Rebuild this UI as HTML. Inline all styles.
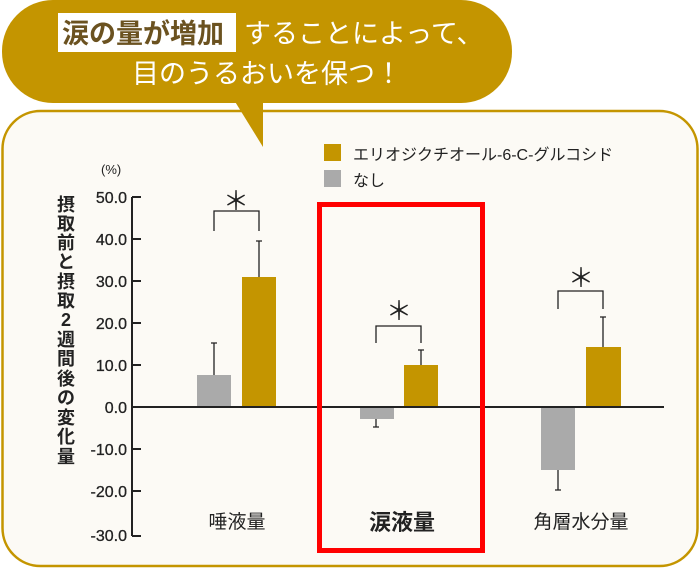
<!DOCTYPE html>
<html><head><meta charset="utf-8"><style>
body{margin:0;width:700px;height:569px;background:#fff;overflow:hidden;font-family:"Liberation Sans","Noto Sans CJK JP",sans-serif;}
</style></head><body>
<svg width="700" height="569" viewBox="0 0 700 569" xmlns="http://www.w3.org/2000/svg" style="position:absolute;left:0;top:0">
<rect x="2.5" y="111" width="695" height="455" rx="38" fill="#fcfaf5" stroke="#c49500" stroke-width="2.5"/>
<rect x="2" y="0" width="510" height="103" rx="51" fill="#c49500"/>
<polygon points="234,100 263,100 263,147" fill="#c49500"/>
<rect x="58" y="13" width="178" height="39" fill="#fff"/>
<g font-family="'Liberation Sans','Noto Sans CJK JP',sans-serif">
<text x="62" y="43" font-size="27" font-weight="bold" fill="#6b5220">涙の量が増加</text>
<text x="244" y="43" font-size="27" fill="#fff">することによって、</text>
<text x="132" y="83" font-size="27" fill="#fff">目のうるおいを保つ！</text>
<rect x="324" y="144" width="17" height="17" fill="#c49500"/>
<rect x="324" y="170" width="17" height="17" fill="#aaa"/>
<text x="353" y="160" font-size="16" fill="#222">エリオジクチオール-6-C-グルコシド</text>
<text x="353" y="186" font-size="16" fill="#222">なし</text>
<text x="101" y="174" font-size="13" fill="#222">(%)</text>
<g font-size="16" fill="#222" text-anchor="end" stroke="#222" stroke-width="0.3">
<text x="127" y="203">50.0</text><text x="127" y="245">40.0</text><text x="127" y="287">30.0</text>
<text x="127" y="329">20.0</text><text x="127" y="371">10.0</text><text x="127" y="413">0.0</text>
<text x="127" y="455">-10.0</text><text x="127" y="497">-20.0</text><text x="127" y="541">-30.0</text>
</g>
<g font-size="18" font-weight="bold" fill="#222" text-anchor="middle">
<text x="66" y="211">摂</text><text x="66" y="230">取</text><text x="66" y="249">前</text><text x="66" y="268">と</text>
<text x="66" y="288">摂</text><text x="66" y="307">取</text><text x="66" y="326">2</text><text x="66" y="346">週</text>
<text x="66" y="365">間</text><text x="66" y="385">後</text><text x="66" y="404">の</text><text x="66" y="424">変</text>
<text x="66" y="443">化</text><text x="66" y="463">量</text>
</g>
<text x="237" y="528" font-size="19" fill="#222" text-anchor="middle">唾液量</text>
<text x="402" y="530" font-size="22" font-weight="bold" fill="#222" text-anchor="middle">涙液量</text>
<text x="581" y="528" font-size="19" fill="#222" text-anchor="middle">角層水分量</text>
<g font-size="26" fill="#222" text-anchor="middle" font-family="'Noto Sans CJK JP',sans-serif">
<text x="236" y="210">＊</text><text x="399" y="320">＊</text><text x="581" y="287">＊</text>
</g>
</g>
<g fill="#aaa"><rect x="197" y="375" width="34" height="32"/><rect x="360" y="407" width="34" height="12"/><rect x="541" y="407" width="34" height="63"/></g>
<g fill="#c49500"><rect x="242" y="277" width="34" height="130"/><rect x="404" y="365" width="34" height="42"/><rect x="586" y="347" width="35" height="60"/></g>
<g stroke="#222" stroke-width="1.3" fill="none">
<path d="M214 375V343M211 343h6M259 277V241M256 241h6M376 419V427M373 427h6M421 365V350M418 350h6M558 470V490M555 490h6M603 347V317M600 317h6"/>
<path d="M214 231V211H259V231M376 343V326H421V343M558 309V291H603V309"/>
</g>
<g stroke="#222" stroke-width="2" fill="none">
<path d="M132 197V536M132 197h9M132 239h9M132 281h9M132 323h9M132 365h9M132 449h9M132 491h9M132 536h9"/>
<path d="M132 407H664"/>
</g>
<rect x="319.5" y="204.5" width="163" height="346" fill="none" stroke="#f00" stroke-width="5"/>
</svg>
</body></html>
